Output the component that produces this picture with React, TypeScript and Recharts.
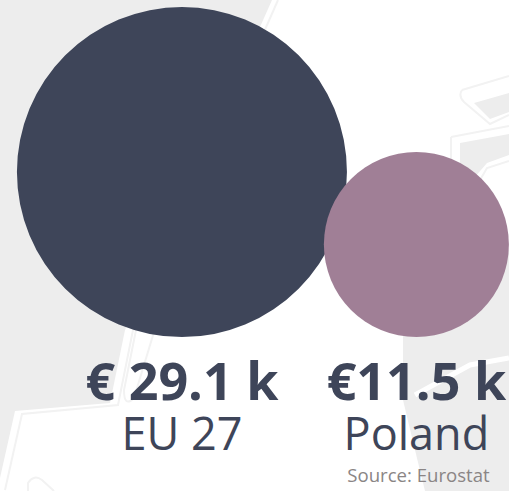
import { ScatterChart, Scatter, XAxis, YAxis, ZAxis, Cell, LabelList } from "recharts";

const W = 509;
const H = 491;

const CATEGORIES = ["EU 27", "Poland"];
const VALUES = [29.1, 11.5];
const VALUE_LABELS = ["€ 29.1 k", "€11.5 k"];
const COLORS = ["#3e4559", "#a07f96"];
const SLOTS = [0, 1];

const data = SLOTS.map((slot, i) => ({
  slot,
  value: VALUES[i],
  name: CATEGORIES[i],
  label: VALUE_LABELS[i],
}));

const INK = "#3e4559";
const FONT = "'Open Sans', sans-serif";
const MAP_GRAY = "#ededed";
const MAP_LINE = "#f2f2f2";

// faded map behind the bubbles
function MapBackground() {
  return (
    <svg width={W} height={H} style={{ position: "absolute", left: 0, top: 0 }}>
      <rect width={W} height={H} fill="#ffffff" />
      <path d="M0 0 L272 0 L125 330 L110 403 L15 411 L0 478 Z" fill={MAP_GRAY} />
      <path d="M278 0 L133 330 L118 405 L22 414 L5 490" fill="none" stroke={MAP_LINE} strokeWidth={2} />
      <path d="M136 330 L124 390 Q124 408 134 398 L154 332" fill="none" stroke={MAP_LINE} strokeWidth={2} />
      <path d="M474 103 L509 93 L509 112 L490 119 Z" fill={MAP_GRAY} />
      <path d="M462 90 L509 76 M462 90 Q458 96 464 102 L490 124 L509 115" fill="none" stroke={MAP_LINE} strokeWidth={2} />
      <path d="M460 143 L509 134 L509 155 L487 163 L474 178 L460 190 Z" fill={MAP_GRAY} />
      <path d="M451 137 L509 126 M451 137 L451 165" fill="none" stroke={MAP_LINE} strokeWidth={2} />
      <path d="M480 180 L487 168 L509 161" fill="none" stroke={MAP_LINE} strokeWidth={2} />
      <path d="M403 300 L509 250 L509 491 L425 491 L415 450 L403 400 Z" fill={MAP_GRAY} />
      <path d="M415 395 L470 365 L509 358" fill="none" stroke="#ffffff" strokeWidth={5} />
      <path d="M28 491 L28 483 Q34 474 42 480 L54 491" fill="none" stroke={MAP_LINE} strokeWidth={2} />
    </svg>
  );
}

function BubbleLabel(props: any) {
  const { x, y, width, height, index } = props;
  const cx = x + width / 2;
  const bubbleBottom = y + height; // bubbles share a bottom edge
  const d = data[index];
  return (
    <g fontFamily={FONT} fill={INK} textAnchor="middle">
      <text x={cx} y={bubbleBottom + 63} fontSize={52} fontWeight={700}>{d.label}</text>
      <text x={cx} y={bubbleBottom + 113} fontSize={45}>{d.name}</text>
    </g>
  );
}

export default function App() {
  return (
    <div style={{ position: "absolute", left: 0, top: 0, width: W, height: H, overflow: "hidden" }}>
      <MapBackground />
      <div style={{ position: "absolute", left: 0, top: 0 }}>
        <ScatterChart width={W} height={H} margin={{ top: 0, right: 0, bottom: 0, left: 0 }}>
          <XAxis type="number" dataKey="slot" domain={[-0.776, 1.395]} hide />
          <YAxis type="number" dataKey="value" domain={[-48.34, 70.86]} hide />
          <ZAxis type="number" dataKey="value" domain={[11.5, 29.1]} range={[26880, 85530]} />
          <Scatter data={data} isAnimationActive={false}>
            {data.map((_, i) => <Cell key={i} fill={COLORS[i]} />)}
            <LabelList dataKey="name" content={BubbleLabel} />
          </Scatter>
          <text x={418.5} y={482} fontFamily={FONT} fontSize={18.6} fill="#8a8585" textAnchor="middle">Source: Eurostat</text>
        </ScatterChart>
      </div>
    </div>
  );
}
